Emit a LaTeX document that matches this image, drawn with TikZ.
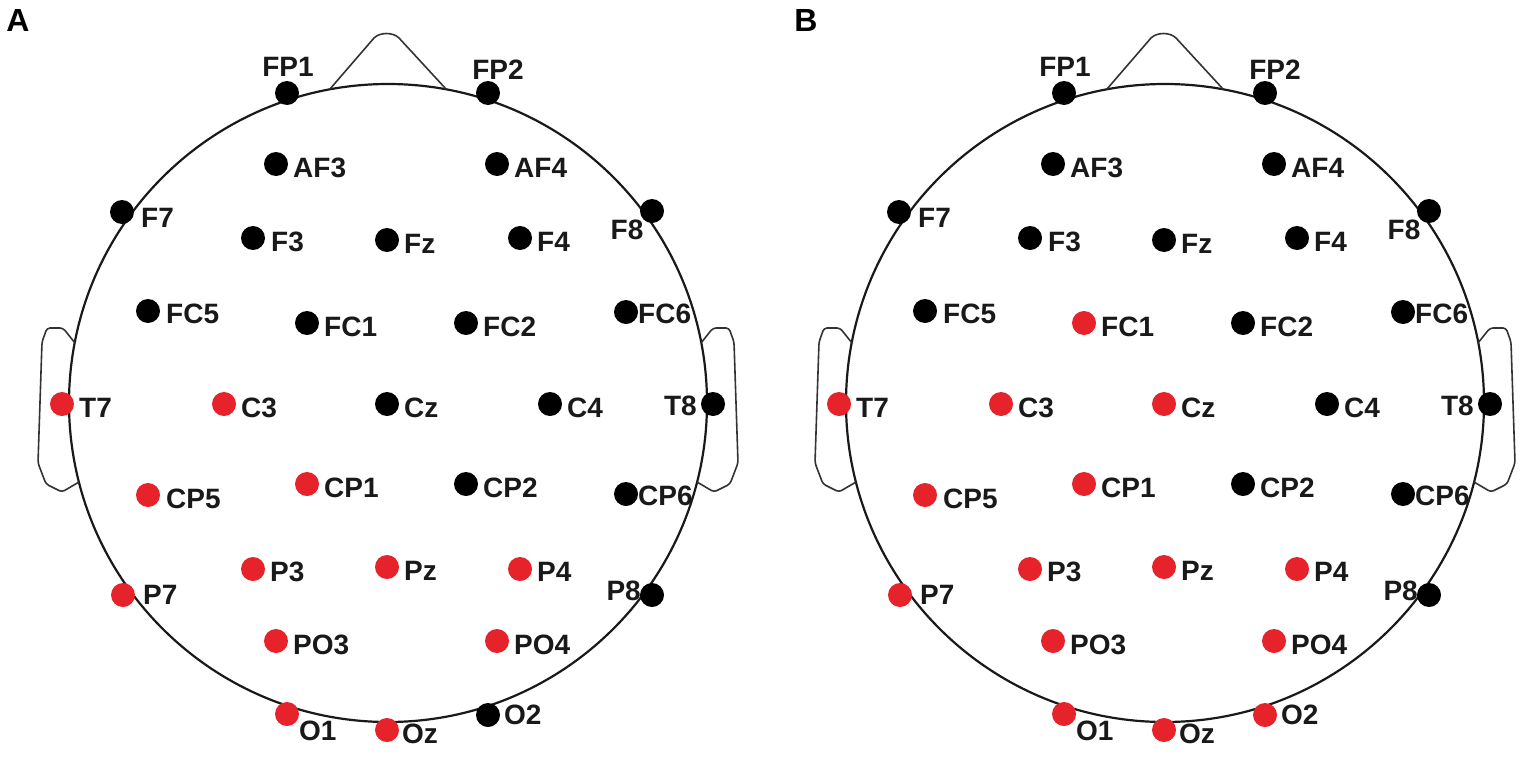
\documentclass[tikz,border=0pt]{standalone}
\usepackage{fontspec}
\setmainfont{Liberation Sans}
\definecolor{eegred}{RGB}{230,34,42}
\newcommand\pfx{A}
\newcommand\elec[7]{%
  \node[dot,fill=#4] (\pfx#1) at (#2,#3) {};
  \node[lbl,anchor=#7] (\pfx#1l) at (#5,#6) {#1};}
\newcommand\headshape{%
  \draw[headline] (388,403) circle[radius=319pt];
  \draw[outline] (330,89) -- (374,38) .. controls (380,32) and (393,32) .. (399,38) -- (446,89);
  \draw[outline,rounded corners=3pt] (75,343) -- (63,328) -- (47,328) -- (42,342) -- (38,463) -- (46,484) -- (62,492) -- (79,482);
  \draw[outline,rounded corners=3pt] (701,343) -- (713,328) -- (729,328) -- (734,342) -- (738,463) -- (730,484) -- (714,492) -- (697,482);}
\newcommand\electrodes[3]{%
  \elec{FP1}{287}{93}{black}{288}{66}{center}
  \elec{FP2}{488}{93}{black}{498}{69}{center}
  \elec{AF3}{276}{164}{black}{293}{167}{west}
  \elec{AF4}{497}{164}{black}{514}{167}{west}
  \elec{F7}{122}{212}{black}{141}{217}{west}
  \elec{F8}{652}{211}{black}{627}{229}{center}
  \elec{F3}{253}{238}{black}{271}{241}{west}
  \elec{Fz}{387}{240}{black}{404}{243}{west}
  \elec{F4}{520}{238}{black}{537}{241}{west}
  \elec{FC5}{148}{311}{black}{166}{313}{west}
  \elec{FC1}{307}{323}{#1}{324}{326}{west}
  \elec{FC2}{466}{323}{black}{483}{326}{west}
  \elec{FC6}{626}{312}{black}{638}{313}{west}
  \elec{T7}{62}{404}{eegred}{79}{407}{west}
  \elec{C3}{224}{404}{eegred}{241}{407}{west}
  \elec{Cz}{387}{404}{#2}{404}{407}{west}
  \elec{C4}{550}{404}{black}{567}{407}{west}
  \elec{T8}{713}{404}{black}{697}{405}{east}
  \elec{CP5}{148}{495}{eegred}{166}{498}{west}
  \elec{CP1}{307}{484}{eegred}{324}{487}{west}
  \elec{CP2}{466}{484}{black}{483}{487}{west}
  \elec{CP6}{626}{494}{black}{638}{495}{west}
  \elec{P7}{123}{595}{eegred}{143}{594}{west}
  \elec{P3}{253}{569}{eegred}{270}{571}{west}
  \elec{Pz}{387}{567}{eegred}{404}{570}{west}
  \elec{P4}{520}{569}{eegred}{537}{571}{west}
  \elec{P8}{652}{595}{black}{641}{590}{east}
  \elec{PO3}{276}{641}{eegred}{293}{644}{west}
  \elec{PO4}{497}{641}{eegred}{514}{644}{west}
  \elec{O1}{287}{714}{eegred}{299}{730}{west}
  \elec{Oz}{387}{730}{eegred}{402}{733}{west}
  \elec{O2}{488}{715}{#3}{504}{714}{west}}
\begin{document}
\begin{tikzpicture}[x=1pt,y=-1pt,
  headline/.style={draw=black!90,line width=2.2pt},
  outline/.style={draw=black!80,line width=1.6pt},
  dot/.style={circle,draw=none,minimum size=24pt,inner sep=0pt},
  lbl/.style={inner sep=0pt,text height=20pt,text depth=0pt,font=\fontsize{28}{30}\selectfont\bfseries,text=black!90},
  panel/.style={inner sep=0pt,font=\fontsize{32}{34}\selectfont\bfseries}]
\useasboundingbox (0,0) rectangle (1535,763);
\node[panel] (labA) at (18,20) {A};
\node[panel] (labB) at (806,20) {B};
\begin{scope}
  \renewcommand\pfx{A}
  \headshape
  \electrodes{black}{black}{black}
\end{scope}
\begin{scope}[xshift=777pt]
  \renewcommand\pfx{B}
  \headshape
  \electrodes{eegred}{eegred}{eegred}
\end{scope}
\end{tikzpicture}
\end{document}
